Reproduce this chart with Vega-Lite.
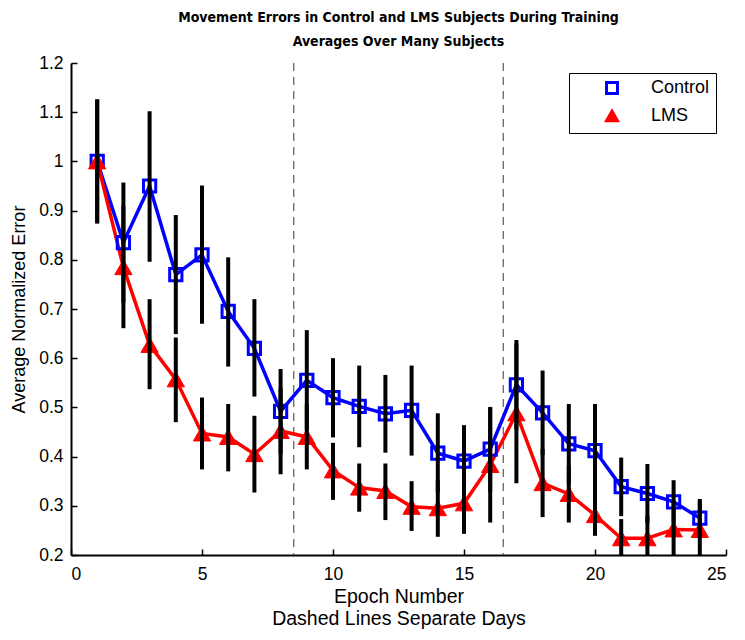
{
  "$schema": "https://vega.github.io/schema/vega-lite/v6.json",
  "autosize": {"type": "none"},
  "padding": {"left": 71, "top": 63, "right": 19, "bottom": 85},
  "width": 655,
  "height": 492,
  "background": "white",
  "config": {
    "font": "Liberation Sans",
    "view": {"stroke": null},
    "axis": {"grid": false, "domainColor": "black", "domainWidth": 2, "tickColor": "black", "tickWidth": 1.5, "tickSize": -6, "labelColor": "black", "labelFontSize": 17.5, "labelFont": "Liberation Sans", "titleFont": "Liberation Sans", "titleFontSize": 18, "titleFontWeight": "normal", "titleColor": "black"},
    "legend": {"orient": "top-right", "offset": 10, "strokeColor": "black", "fillColor": "white", "padding": 6, "labelFontSize": 18, "labelFont": "Liberation Sans", "labelColor": "black", "symbolSize": 120, "symbolStrokeWidth": 3, "symbolOffset": 28, "labelOffset": 30, "rowPadding": 5}
  },
  "title": {
    "text": ["Movement Errors in Control and LMS Subjects During Training", "Averages Over Many Subjects"],
    "font": "DejaVu Sans Condensed",
    "fontSize": 14,
    "fontWeight": "bold",
    "color": "black",
    "anchor": "middle",
    "offset": 5,
    "lineHeight": 24
  },
  "datasets": {
    "days": [{"boundary": 8.5}, {"boundary": 16.5}],
    "errors": [
      {"epoch": 1, "group": "Control", "value": 1.0, "lo": 0.874, "hi": 1.126},
      {"epoch": 2, "group": "Control", "value": 0.835, "lo": 0.713, "hi": 0.957},
      {"epoch": 3, "group": "Control", "value": 0.95, "lo": 0.796, "hi": 1.102},
      {"epoch": 4, "group": "Control", "value": 0.77, "lo": 0.649, "hi": 0.891},
      {"epoch": 5, "group": "Control", "value": 0.81, "lo": 0.67, "hi": 0.951},
      {"epoch": 6, "group": "Control", "value": 0.695, "lo": 0.583, "hi": 0.805},
      {"epoch": 7, "group": "Control", "value": 0.62, "lo": 0.522, "hi": 0.72},
      {"epoch": 8, "group": "Control", "value": 0.492, "lo": 0.405, "hi": 0.578},
      {"epoch": 9, "group": "Control", "value": 0.555, "lo": 0.455, "hi": 0.657},
      {"epoch": 10, "group": "Control", "value": 0.52, "lo": 0.439, "hi": 0.6},
      {"epoch": 11, "group": "Control", "value": 0.502, "lo": 0.419, "hi": 0.585},
      {"epoch": 12, "group": "Control", "value": 0.487, "lo": 0.408, "hi": 0.566},
      {"epoch": 13, "group": "Control", "value": 0.494, "lo": 0.402, "hi": 0.585},
      {"epoch": 14, "group": "Control", "value": 0.407, "lo": 0.327, "hi": 0.488},
      {"epoch": 15, "group": "Control", "value": 0.391, "lo": 0.318, "hi": 0.464},
      {"epoch": 16, "group": "Control", "value": 0.415, "lo": 0.329, "hi": 0.501},
      {"epoch": 17, "group": "Control", "value": 0.546, "lo": 0.455, "hi": 0.637},
      {"epoch": 18, "group": "Control", "value": 0.489, "lo": 0.403, "hi": 0.575},
      {"epoch": 19, "group": "Control", "value": 0.426, "lo": 0.345, "hi": 0.507},
      {"epoch": 20, "group": "Control", "value": 0.412, "lo": 0.317, "hi": 0.507},
      {"epoch": 21, "group": "Control", "value": 0.339, "lo": 0.279, "hi": 0.398},
      {"epoch": 22, "group": "Control", "value": 0.325, "lo": 0.265, "hi": 0.385},
      {"epoch": 23, "group": "Control", "value": 0.308, "lo": 0.264, "hi": 0.352},
      {"epoch": 24, "group": "Control", "value": 0.275, "lo": 0.236, "hi": 0.314},
      {"epoch": 1, "group": "LMS", "value": 1.0, "lo": 0.874, "hi": 1.126},
      {"epoch": 2, "group": "LMS", "value": 0.785, "lo": 0.661, "hi": 0.909},
      {"epoch": 3, "group": "LMS", "value": 0.627, "lo": 0.537, "hi": 0.72},
      {"epoch": 4, "group": "LMS", "value": 0.557, "lo": 0.47, "hi": 0.642},
      {"epoch": 5, "group": "LMS", "value": 0.447, "lo": 0.374, "hi": 0.52},
      {"epoch": 6, "group": "LMS", "value": 0.44, "lo": 0.37, "hi": 0.507},
      {"epoch": 7, "group": "LMS", "value": 0.405, "lo": 0.327, "hi": 0.483},
      {"epoch": 8, "group": "LMS", "value": 0.452, "lo": 0.364, "hi": 0.54},
      {"epoch": 9, "group": "LMS", "value": 0.44, "lo": 0.374, "hi": 0.506},
      {"epoch": 10, "group": "LMS", "value": 0.372, "lo": 0.312, "hi": 0.428},
      {"epoch": 11, "group": "LMS", "value": 0.337, "lo": 0.288, "hi": 0.386},
      {"epoch": 12, "group": "LMS", "value": 0.33, "lo": 0.271, "hi": 0.386},
      {"epoch": 13, "group": "LMS", "value": 0.298, "lo": 0.249, "hi": 0.35},
      {"epoch": 14, "group": "LMS", "value": 0.295, "lo": 0.237, "hi": 0.353},
      {"epoch": 15, "group": "LMS", "value": 0.305, "lo": 0.243, "hi": 0.367},
      {"epoch": 16, "group": "LMS", "value": 0.383, "lo": 0.266, "hi": 0.5},
      {"epoch": 17, "group": "LMS", "value": 0.488, "lo": 0.346, "hi": 0.63},
      {"epoch": 18, "group": "LMS", "value": 0.346, "lo": 0.277, "hi": 0.415},
      {"epoch": 19, "group": "LMS", "value": 0.324, "lo": 0.266, "hi": 0.382},
      {"epoch": 20, "group": "LMS", "value": 0.281, "lo": 0.239, "hi": 0.323},
      {"epoch": 21, "group": "LMS", "value": 0.234, "lo": 0.19, "hi": 0.273},
      {"epoch": 22, "group": "LMS", "value": 0.234, "lo": 0.19, "hi": 0.28},
      {"epoch": 23, "group": "LMS", "value": 0.252, "lo": 0.19, "hi": 0.31},
      {"epoch": 24, "group": "LMS", "value": 0.251, "lo": 0.19, "hi": 0.31}
    ]
  },
  "layer": [
    {
      "data": {"name": "days"},
      "mark": {"type": "rule", "color": "#666666", "strokeWidth": 1.3, "strokeDash": [8, 6]},
      "encoding": {
        "x": {"field": "boundary", "type": "quantitative", "scale": {"domain": [0, 25], "nice": false}}
      }
    },
    {
      "data": {"name": "errors"},
      "mark": {"type": "line", "strokeWidth": 3.5},
      "encoding": {
        "x": {"field": "epoch", "type": "quantitative", "scale": {"domain": [0, 25], "nice": false},
          "axis": {"values": [0, 5, 10, 15, 20, 25], "title": ["Epoch Number", "Dashed Lines Separate Days"], "titlePadding": 5, "labelPadding": 16, "titleLineHeight": 22, "titleFontSize": 19.5}},
        "y": {"field": "value", "type": "quantitative", "scale": {"domain": [0.2, 1.2], "nice": false, "zero": false},
          "axis": {"values": [0.2, 0.3, 0.4, 0.5, 0.6, 0.7, 0.8, 0.9, 1.0, 1.1, 1.2], "format": "~g", "title": "Average Normalized Error", "titlePadding": 10, "labelPadding": 14}},
        "stroke": {"field": "group", "type": "nominal", "title": null, "scale": {"domain": ["Control", "LMS"], "range": ["#0000ff", "#ff0000"]}},
        "detail": {"field": "group"}
      }
    },
    {
      "data": {"name": "errors"},
      "transform": [{"filter": "datum.group === 'Control'"}],
      "mark": {"type": "point", "filled": true, "size": 150, "strokeWidth": 3, "opacity": 1},
      "encoding": {
        "x": {"field": "epoch", "type": "quantitative"},
        "y": {"field": "value", "type": "quantitative"},
        "shape": {"field": "group", "type": "nominal", "title": null, "scale": {"domain": ["Control", "LMS"], "range": ["square", "triangle-up"]}},
        "stroke": {"field": "group", "type": "nominal", "title": null},
        "fill": {"field": "group", "type": "nominal", "title": null, "scale": {"domain": ["Control", "LMS"], "range": ["transparent", "#ff0000"]}}
      }
    },
    {
      "data": {"name": "errors"},
      "transform": [{"filter": "datum.group === 'LMS'"}],
      "mark": {"type": "point", "filled": true, "size": 300, "strokeWidth": 1, "opacity": 1},
      "encoding": {
        "x": {"field": "epoch", "type": "quantitative"},
        "y": {"field": "value", "type": "quantitative"},
        "shape": {"field": "group", "type": "nominal", "title": null},
        "stroke": {"field": "group", "type": "nominal", "title": null},
        "fill": {"field": "group", "type": "nominal", "title": null}
      }
    },
    {
      "data": {"name": "errors"},
      "mark": {"type": "rule", "color": "black", "strokeWidth": 4, "clip": true},
      "encoding": {
        "x": {"field": "epoch", "type": "quantitative"},
        "y": {"field": "lo", "type": "quantitative"},
        "y2": {"field": "hi"}
      }
    }
  ]
}
